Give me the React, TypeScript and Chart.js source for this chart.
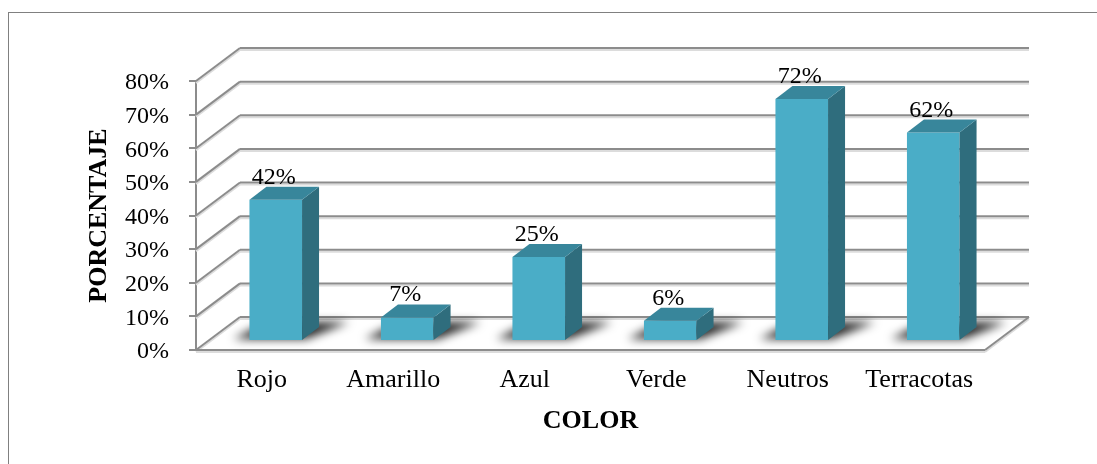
import React, { useEffect, useRef } from "react";
import { Chart, registerables } from "chart.js";

Chart.register(...registerables);

const categories = ["Rojo", "Amarillo", "Azul", "Verde", "Neutros", "Terracotas"];
const values = [42, 7, 25, 6, 72, 62];
const yTickValues = [0, 10, 20, 30, 40, 50, 60, 70, 80];
const xTitle = "COLOR";
const yTitle = "PORCENTAJE";

const FONT = "'Times New Roman', 'Liberation Serif', serif";
const WALL_DX = 44;
const WALL_DY = -33;
const BAR_OFF_X = 14;
const BAR_OFF_Y = -9;
const BAR_DX = 17;
const BAR_DY = -13;
const FRONT = "#4AADC7";
const TOP = "#38869B";
const SIDE = "#2F6D7D";
const GRID = "#8C8C8C";
const GRID_LIGHT = "#DCDCDC";

function line(ctx: CanvasRenderingContext2D, x1: number, y1: number, x2: number, y2: number) {
  ctx.beginPath();
  ctx.moveTo(x1, y1);
  ctx.lineTo(x2, y2);
  ctx.stroke();
}

const threeD = {
  id: "threeD",
  beforeDraw(chart: any) {
    const ctx = chart.ctx as CanvasRenderingContext2D;
    ctx.save();
    ctx.strokeStyle = "#808080";
    ctx.lineWidth = 1;
    ctx.strokeRect(8.5, 12.5, 3000, 3000);
    ctx.restore();
  },
  beforeDatasetsDraw(chart: any) {
    const ctx = chart.ctx as CanvasRenderingContext2D;
    const { left, right, bottom } = chart.chartArea;
    const y = chart.scales.y;
    ctx.save();
    ctx.strokeStyle = GRID_LIGHT;
    ctx.lineWidth = 2;
    line(ctx, left, bottom + 2, right, bottom + 2);
    line(ctx, right, bottom + 2, right + WALL_DX, bottom + WALL_DY + 2);
    yTickValues.forEach((v) => {
      const py = y.getPixelForValue(v);
      ctx.strokeStyle = GRID_LIGHT;
      ctx.lineWidth = 2;
      line(ctx, left + WALL_DX, py + WALL_DY + 2, right + WALL_DX, py + WALL_DY + 2);
      line(ctx, left, py + 2, left + WALL_DX, py + WALL_DY + 2);
      ctx.strokeStyle = GRID;
      ctx.lineWidth = 2;
      line(ctx, left + WALL_DX, py + WALL_DY, right + WALL_DX, py + WALL_DY);
      line(ctx, left, py, left + WALL_DX, py + WALL_DY);
    });
    ctx.strokeStyle = GRID;
    ctx.lineWidth = 2;
    line(ctx, left, bottom, right, bottom);
    line(ctx, right, bottom, right + WALL_DX, bottom + WALL_DY);
    ctx.restore();

    const meta = chart.getDatasetMeta(0);
    meta.data.forEach((el: any) => {
      const { x, base, width } = el.getProps(["x", "base", "width"], true);
      const x0 = x - width / 2 + BAR_OFF_X;
      const x1 = x + width / 2 + BAR_OFF_X;
      const yb = base + BAR_OFF_Y;
      ctx.save();
      ctx.filter = "blur(5px)";
      ctx.fillStyle = "rgba(0,0,0,0.85)";
      ctx.beginPath();
      ctx.moveTo(x0 - 16, yb - 1);
      ctx.lineTo(x1 + 4, yb - 1);
      ctx.lineTo(x1 + BAR_DX + 30, yb + BAR_DY - 5);
      ctx.lineTo(x0 + BAR_DX, yb + BAR_DY - 5);
      ctx.closePath();
      ctx.fill();
      ctx.restore();
    });
  },
  beforeDatasetDraw(chart: any) {
    chart.ctx.save();
    chart.ctx.translate(BAR_OFF_X, BAR_OFF_Y);
  },
  afterDatasetDraw(chart: any) {
    chart.ctx.restore();
  },
  afterDatasetsDraw(chart: any) {
    const ctx = chart.ctx as CanvasRenderingContext2D;
    const meta = chart.getDatasetMeta(0);
    meta.data.forEach((el: any, i: number) => {
      const { x, y, base, width } = el.getProps(["x", "y", "base", "width"], true);
      const x0 = x - width / 2 + BAR_OFF_X;
      const x1 = x + width / 2 + BAR_OFF_X;
      const yt = y + BAR_OFF_Y;
      const yb = base + BAR_OFF_Y;
      ctx.save();
      ctx.fillStyle = SIDE;
      ctx.beginPath();
      ctx.moveTo(x1, yt);
      ctx.lineTo(x1 + BAR_DX, yt + BAR_DY);
      ctx.lineTo(x1 + BAR_DX, yb + BAR_DY);
      ctx.lineTo(x1, yb);
      ctx.closePath();
      ctx.fill();
      ctx.fillStyle = TOP;
      ctx.beginPath();
      ctx.moveTo(x0, yt);
      ctx.lineTo(x0 + BAR_DX, yt + BAR_DY);
      ctx.lineTo(x1 + BAR_DX, yt + BAR_DY);
      ctx.lineTo(x1, yt);
      ctx.closePath();
      ctx.fill();
      ctx.fillStyle = "#000";
      ctx.font = `24px ${FONT}`;
      ctx.textAlign = "center";
      ctx.textBaseline = "alphabetic";
      ctx.fillText(`${values[i]}%`, (x0 + x1) / 2 - 2, yt - 16);
      ctx.restore();
    });
  },
};

export default function App() {
  const ref = useRef<HTMLCanvasElement | null>(null);
  useEffect(() => {
    if (!ref.current) return;
    const chart = new Chart(ref.current, {
      type: "bar",
      data: {
        labels: categories,
        datasets: [
          {
            data: values,
            backgroundColor: FRONT,
            borderWidth: 0,
            barPercentage: 0.4,
            categoryPercentage: 1,
            clip: false as any,
          },
        ],
      },
      options: {
        responsive: false,
        animation: false,
        events: [],
        layout: { padding: { left: 0, top: 81, right: 112, bottom: 0 } },
        plugins: {
          legend: { display: false },
          tooltip: { enabled: false },
          title: { display: false },
        },
        scales: {
          x: {
            type: "category",
            offset: true,
            grid: { display: false, drawTicks: false },
            border: { display: false },
            ticks: {
              color: "#000",
              font: { family: FONT, size: 26 },
              padding: 15,
              maxRotation: 0,
              autoSkip: false,
            },
            title: {
              display: true,
              text: xTitle,
              color: "#000",
              font: { family: FONT, size: 26, weight: "bold" },
              padding: { top: 0, bottom: 27 },
            },
            afterFit: (s: any) => {
              s.height = 114;
            },
          },
          y: {
            min: 0,
            max: 80,
            ticks: {
              stepSize: 10,
              color: "#000",
              font: { family: FONT, size: 24 },
              padding: 20,
              labelOffset: 2,
              callback: (v: any) => `${v}%`,
            },
            grid: {
              drawOnChartArea: false,
              drawTicks: true,
              tickLength: 7,
              color: GRID,
              lineWidth: 2,
            },
            border: { display: true, color: GRID, width: 2 },
            title: {
              display: true,
              text: yTitle,
              color: "#000",
              font: { family: FONT, size: 26, weight: "bold" },
              padding: { top: 84, bottom: 0 },
            },
            afterFit: (s: any) => {
              s.width = 196;
            },
          },
        },
      },
      plugins: [threeD],
    });
    return () => chart.destroy();
  }, []);
  return (
    <div style={{ position: "fixed", left: 0, top: 0, width: 1097, height: 464, background: "#fff" }}>
      <canvas ref={ref} width={1097} height={464} style={{ display: "block" }} />
    </div>
  );
}
